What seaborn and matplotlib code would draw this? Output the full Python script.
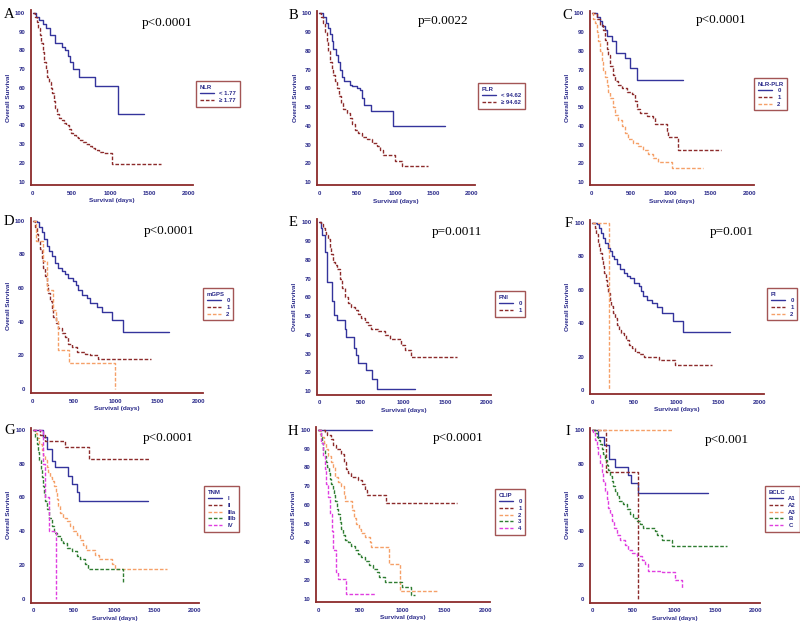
import matplotlib
matplotlib.use("Agg")
import matplotlib.pyplot as plt
import seaborn as sns

# ---- survival curves (days, overall survival %) ----
# A : NLR
a_low_days = [0, 45, 80, 130, 170, 220, 290, 380, 420, 450, 480, 520, 590, 800, 1095, 1430]
a_low_surv = [100, 98, 96, 94, 92, 88, 84, 82, 80, 77, 74, 70, 66, 61, 46, 46]
a_high_days = [0, 30, 50, 70, 90, 110, 130, 150, 170, 190, 210, 230, 250, 270, 290, 310, 340,
               370, 400, 430, 460, 490, 520, 550, 580, 610, 640, 680, 720, 760, 800, 850, 900,
               960, 1010, 1640]
a_high_surv = [100, 98, 95, 92, 88, 84, 79, 74, 70, 66, 63, 60, 57, 53, 49, 46, 44, 43, 41, 40,
               38, 36, 35, 34, 33, 32, 31, 30, 29, 28, 27, 26, 25.5, 25, 19.5, 19.5]

# B : PLR
b_low_days = [0, 53, 83, 118, 140, 162, 184, 215, 241, 272, 303, 329, 404, 434, 491, 535, 566,
              583, 680, 965, 1654]
b_low_surv = [100, 98, 95, 92, 89, 85, 81, 78, 74, 70, 66, 64, 62, 61, 60, 59, 55, 51, 48, 40, 40]
b_high_days = [0, 22, 53, 75, 96, 118, 140, 162, 184, 206, 228, 259, 285, 316, 360, 404, 434,
               469, 504, 557, 623, 689, 754, 798, 842, 996, 1083, 1434]
b_high_surv = [100, 98, 95, 90, 85, 80, 74, 70, 67, 64, 60, 56, 52, 49, 47, 44, 41, 38, 36, 34,
               33, 31, 29, 27, 24.3, 21.5, 18.6, 18.6]

# C : NLR-PLR
c_0_days = [0, 63, 105, 135, 168, 198, 253, 307, 421, 484, 577, 1158]
c_0_surv = [100, 98, 96, 93, 91, 88, 85, 79, 76, 71, 64.3, 64.3]
c_1_days = [0, 63, 105, 139, 168, 189, 210, 231, 265, 295, 337, 379, 442, 505, 547, 577, 610,
            695, 779, 800, 947, 968, 1095, 1642]
c_1_surv = [100, 97, 94, 91, 86, 81, 78, 72, 67, 64, 62, 60, 58, 57, 53, 49, 47, 45, 44, 41,
            37, 34, 27.3, 27.3]
c_2_days = [0, 21, 42, 63, 84, 105, 126, 147, 168, 189, 210, 231, 265, 295, 337, 379, 421, 463,
            526, 589, 653, 716, 779, 842, 1010, 1410]
c_2_surv = [100, 97, 95, 90, 85, 80, 74, 70, 66, 62, 58, 55, 50, 46, 43, 40, 36, 33, 31, 29,
            27, 25, 23, 20.8, 17.3, 17.3]

# D : mGPS
d_0_days = [0, 48, 80, 108, 137, 169, 201, 229, 269, 309, 349, 390, 430, 482, 522, 550, 590,
            651, 691, 771, 831, 952, 1092, 1647]
d_0_surv = [100, 99, 96, 93, 89, 85, 82, 79, 75, 72, 70, 68, 66, 64, 62, 59, 56, 54, 51, 49,
            46, 41, 34, 34]
d_1_days = [0, 28, 48, 68, 88, 108, 129, 149, 169, 189, 209, 229, 249, 281, 309, 349, 390, 430,
            470, 530, 630, 691, 792, 1422]
d_1_surv = [100, 96, 92, 88, 83, 78, 72, 67, 62, 57, 52, 47, 43, 39, 36, 33, 31, 27, 25, 22,
            21, 20, 17.8, 17.8]
d_2_days = [0, 40, 120, 177, 241, 281, 309, 442, 992]
d_2_surv = [100, 88, 76, 59, 47, 41, 23.5, 15.5, 0]

# E : PNI
e_0_days = [0, 20, 36, 67, 95, 159, 180, 215, 306, 320, 417, 440, 460, 563, 631, 694, 1140]
e_0_surv = [100, 97, 93, 84, 68, 58, 50.5, 47.8, 43, 38.9, 33, 29, 25, 21, 16.6, 11.2, 11.2]
e_1_days = [0, 28, 48, 67, 87, 107, 127, 147, 167, 194, 218, 246, 274, 306, 345, 385, 425, 464,
            504, 544, 583, 623, 702, 782, 841, 980, 1020, 1099, 1647]
e_1_surv = [100, 99, 97, 95, 93, 91, 87, 83, 79, 77, 75, 70, 65, 60, 57, 55, 53, 51, 49, 47,
            45, 43, 42, 40, 37.6, 34.5, 32.1, 28.2, 28.2]

# F : PI
f_0_days = [0, 59, 79, 107, 131, 158, 186, 210, 238, 265, 297, 329, 376, 416, 455, 495, 554,
            582, 606, 653, 713, 772, 832, 962, 1089, 1643]
f_0_surv = [100, 99, 97, 94, 91, 88, 85, 83, 80, 78, 75, 72, 70, 68, 67, 64, 62, 59, 56, 54,
            52, 49.5, 46, 41, 34.5, 34.5]
f_1_days = [0, 40, 51, 67, 83, 99, 115, 131, 147, 162, 178, 194, 210, 226, 249, 273, 297, 321,
            345, 376, 408, 440, 475, 515, 554, 614, 792, 990, 1426]
f_1_surv = [100, 97, 93, 88, 85, 82, 78, 74, 70, 66, 62, 58, 54, 50, 46, 43, 39, 36, 34, 33,
            30, 27, 25, 23, 21.5, 20, 18, 15, 15]
f_2_days = [0, 202]
f_2_surv = [100, 0]

# G : TNM
g_i_days = [0, 128, 169, 230, 272, 436, 477, 547, 568, 1424]
g_i_surv = [100, 96, 88.7, 81.5, 77.8, 72.9, 67.9, 63, 58, 58]
g_ii_days = [0, 86, 148, 395, 695, 1444]
g_ii_surv = [100, 97, 93.7, 90.1, 82.6, 82.6]
g_iiia_days = [0, 25, 53, 78, 107, 128, 148, 169, 189, 210, 230, 259, 284, 300, 313, 333, 374,
               416, 457, 498, 539, 580, 621, 654, 765, 819, 971, 1012, 1650]
g_iiia_surv = [100, 98, 95, 92, 88, 85, 82, 78, 75, 72, 70, 67, 63, 59, 55, 51, 48, 46, 43, 40,
               38, 35, 32, 29, 26, 23.5, 20.5, 17.5, 17.5]
g_iiib_days = [0, 25, 45, 66, 78, 95, 107, 119, 136, 152, 177, 202, 230, 259, 300, 342, 374,
               416, 477, 539, 580, 642, 683, 1107]
g_iiib_surv = [100, 96, 92, 87, 82, 77, 72, 67, 62, 58, 53, 48, 43, 39, 37, 35, 33, 30, 28, 25,
               23.5, 20.5, 17.5, 9]
g_iv_days = [0, 120, 148, 202, 284]
g_iv_surv = [100, 80, 60, 40, 0]

# H : CLIP
h_0_days = [0, 644]
h_0_surv = [100, 100]
h_1_days = [0, 80, 111, 159, 179, 219, 278, 306, 330, 358, 390, 477, 525, 557, 588, 815, 1662]
h_1_surv = [100, 99, 97, 95, 92, 90, 87, 83, 79, 77, 75, 73, 71, 68, 65, 61, 61]
h_2_days = [0, 20, 40, 72, 99, 119, 151, 179, 207, 239, 278, 310, 326, 405, 429, 457, 485, 517,
            557, 616, 628, 843, 974, 1423]
h_2_surv = [100, 98, 96, 93, 90, 86, 83, 80, 75, 72, 70, 66, 62, 57, 53, 50, 47, 45, 43, 40,
            37.4, 28.4, 14, 14]
h_3_days = [0, 32, 48, 64, 80, 95, 111, 127, 143, 159, 175, 191, 207, 223, 239, 258, 278, 298,
            318, 358, 398, 437, 477, 517, 557, 604, 656, 708, 724, 795, 1002, 1105, 1153]
h_3_surv = [100, 96, 93, 89, 86, 83, 80, 77, 74, 71, 68, 65, 62, 58, 55, 51, 47, 44, 41, 40,
            38, 36, 34, 32, 30, 28, 26, 24, 21.5, 19, 16, 12, 12]
h_4_days = [0, 40, 60, 80, 100, 120, 140, 160, 180, 211, 239, 338, 676]
h_4_surv = [100, 93, 86, 79, 71, 64, 55, 46, 36, 24.3, 20.3, 12.7, 12.7]

# I : BCLC
i_a1_days = [0, 77, 146, 211, 280, 443, 476, 565, 1419]
i_a1_surv = [100, 96, 91, 82.6, 78.2, 73.3, 68.3, 62.8, 62.8]
i_a2_days = [0, 171, 557]
i_a2_surv = [100, 75.2, 0]
i_a3_days = [0, 992]
i_a3_surv = [100, 100]
i_b_days = [0, 37, 57, 77, 98, 118, 138, 159, 179, 199, 220, 240, 260, 280, 309, 333, 374, 423,
            463, 504, 545, 585, 626, 768, 797, 850, 972, 1642]
i_b_surv = [100, 98, 96, 94, 92, 89, 86, 82, 79, 76, 73, 70, 67, 64, 61, 58, 56, 53, 50, 48,
            46, 44, 42, 40, 37.5, 35, 31.3, 31.3]
i_c_days = [0, 16, 37, 57, 77, 98, 118, 138, 159, 179, 199, 220, 240, 268, 301, 341, 402, 435,
            484, 545, 606, 646, 687, 850, 1012, 1093]
i_c_surv = [100, 98, 94, 90, 85, 80, 75, 70, 64, 59, 54, 50, 46, 42, 38, 35, 32, 29, 27, 25,
            23, 20.4, 16.5, 16, 10.9, 5.5]

legend_titles = ["NLR", "PLR", "NLR-PLR", "mGPS", "PNI", "PI", "TNM", "CLIP", "BCLC"]
panel_letters = ["A", "B", "C", "D", "E", "F", "G", "H", "I"]
p_values = ["p<0.0001", "p=0.0022", "p<0.0001", "p<0.0001", "p=0.0011", "p=0.001",
            "p<0.0001", "p<0.0001", "p<0.001"]

NAVY = "#34349c"
MAROON = "#8c2b2b"
ORANGE = "#f5a068"
GREEN = "#2f7d32"
MAGENTA = "#e03ee0"
TXT = "#2a2a8a"
SOLID = "-"
DASH = (0, (2.6, 1.3))

# curves per panel: (days, surv, label, color, linestyle)
panels = [
    [(a_low_days, a_low_surv, "< 1.77", NAVY, SOLID),
     (a_high_days, a_high_surv, "\u2265 1.77", MAROON, DASH)],
    [(b_low_days, b_low_surv, "< 94.62", NAVY, SOLID),
     (b_high_days, b_high_surv, "\u2265 94.62", MAROON, DASH)],
    [(c_0_days, c_0_surv, "0", NAVY, SOLID),
     (c_1_days, c_1_surv, "1", MAROON, DASH),
     (c_2_days, c_2_surv, "2", ORANGE, DASH)],
    [(d_0_days, d_0_surv, "0", NAVY, SOLID),
     (d_1_days, d_1_surv, "1", MAROON, DASH),
     (d_2_days, d_2_surv, "2", ORANGE, DASH)],
    [(e_0_days, e_0_surv, "0", NAVY, SOLID),
     (e_1_days, e_1_surv, "1", MAROON, DASH)],
    [(f_0_days, f_0_surv, "0", NAVY, SOLID),
     (f_1_days, f_1_surv, "1", MAROON, DASH),
     (f_2_days, f_2_surv, "2", ORANGE, DASH)],
    [(g_i_days, g_i_surv, "I", NAVY, SOLID),
     (g_ii_days, g_ii_surv, "II", MAROON, DASH),
     (g_iiia_days, g_iiia_surv, "IIIa", ORANGE, DASH),
     (g_iiib_days, g_iiib_surv, "IIIb", GREEN, DASH),
     (g_iv_days, g_iv_surv, "IV", MAGENTA, DASH)],
    [(h_0_days, h_0_surv, "0", NAVY, SOLID),
     (h_1_days, h_1_surv, "1", MAROON, DASH),
     (h_2_days, h_2_surv, "2", ORANGE, DASH),
     (h_3_days, h_3_surv, "3", GREEN, DASH),
     (h_4_days, h_4_surv, "4", MAGENTA, DASH)],
    [(i_a1_days, i_a1_surv, "A1", NAVY, SOLID),
     (i_a2_days, i_a2_surv, "A2", MAROON, DASH),
     (i_a3_days, i_a3_surv, "A3", ORANGE, DASH),
     (i_b_days, i_b_surv, "B", GREEN, DASH),
     (i_c_days, i_c_surv, "C", MAGENTA, DASH)],
]

# layout in pixels: axes left, top, width, height ; y range starts at 10 or 0
W, H = 800, 625
axes_px = [(30.7, 10, 162, 175), (317.4, 10.5, 157.5, 175), (589.7, 10.5, 164, 175),
           (30.6, 218, 172, 175), (317, 219.5, 174, 175), (590, 220, 174, 174),
           (31, 427.5, 168, 175), (316, 427, 174, 175), (590, 427.5, 170, 175)]
y_from_ten = [True, True, True, False, True, False, False, True, False]
legend_px = [(196, 81), (478, 83), (754, 78), (203, 288), (495, 291), (767, 288),
             (204, 486), (495, 489), (765, 486)]
letter_px = [(4, 18), (289, 19), (562, 19), (4, 225), (289, 226), (565, 227),
             (4, 434), (288, 435), (565, 435)]
pval_px = [(142, 26), (418, 24), (696, 23), (144, 234), (432, 235), (710, 235),
           (143, 441), (433, 441), (705, 443)]

sns.set_theme(style="white")
plt.rcParams["font.family"] = ["Liberation Sans", "DejaVu Sans"]

fig = plt.figure(figsize=(W / 100, H / 100), dpi=100)

for k, curves in enumerate(panels):
    l, t, w, h = axes_px[k]
    ax = fig.add_axes([l / W, 1 - (t + h) / H, w / W, h / H])
    for days, surv, lab, col, ls in curves:
        sns.lineplot(x=days, y=surv, ax=ax, color=col, linestyle=ls, linewidth=1.0,
                     drawstyle="steps-post", sort=False, estimator=None, label=lab,
                     legend=False)

    ax.set_xlim(-25, 2050)
    if y_from_ten[k]:
        ax.set_ylim(8.2, 101.5)
        ax.set_yticks(range(10, 101, 10))
    else:
        ax.set_ylim(-2.3, 101.5)
        ax.set_yticks(range(0, 101, 20))
    ax.set_xticks([0, 500, 1000, 1500, 2000])

    sns.despine(ax=ax)
    for side in ["left", "bottom"]:
        ax.spines[side].set_color(MAROON)
        ax.spines[side].set_linewidth(1.3)
    ax.tick_params(axis="both", direction="out", length=2.5, width=0.8, color=MAROON,
                   labelsize=4.3, labelcolor=TXT, pad=1.5)
    for lbl in ax.get_xticklabels() + ax.get_yticklabels():
        lbl.set_fontweight("bold")
    ax.set_xlabel("Survival (days)", fontsize=4.6, color=TXT, fontweight="bold", labelpad=2)
    ax.set_ylabel("Overall Survival", fontsize=4.6, color=TXT, fontweight="bold", labelpad=3)

    lx, ly = legend_px[k]
    leg = ax.legend(title=legend_titles[k], loc="upper left",
                    bbox_to_anchor=(lx / W, 1 - ly / H), bbox_transform=fig.transFigure,
                    fontsize=4.3, title_fontsize=4.3, frameon=True, fancybox=False,
                    handlelength=2.4, handletextpad=0.9, labelspacing=0.25,
                    borderpad=0.6, borderaxespad=0, alignment="left")
    leg.get_frame().set_edgecolor(MAROON)
    leg.get_frame().set_linewidth(1.0)
    leg.get_title().set_color(TXT)
    leg.get_title().set_fontweight("bold")
    for txt in leg.get_texts():
        txt.set_color(TXT)
        txt.set_fontweight("bold")

    px, py = letter_px[k]
    fig.text(px / W, 1 - py / H, panel_letters[k], fontsize=10.5,
             family=["Liberation Serif", "DejaVu Serif"], color="black")
    qx, qy = pval_px[k]
    fig.text(qx / W, 1 - qy / H, p_values[k], fontsize=9.5,
             family=["Liberation Serif", "DejaVu Serif"], color="black")

fig.savefig("out.png", dpi=100)
